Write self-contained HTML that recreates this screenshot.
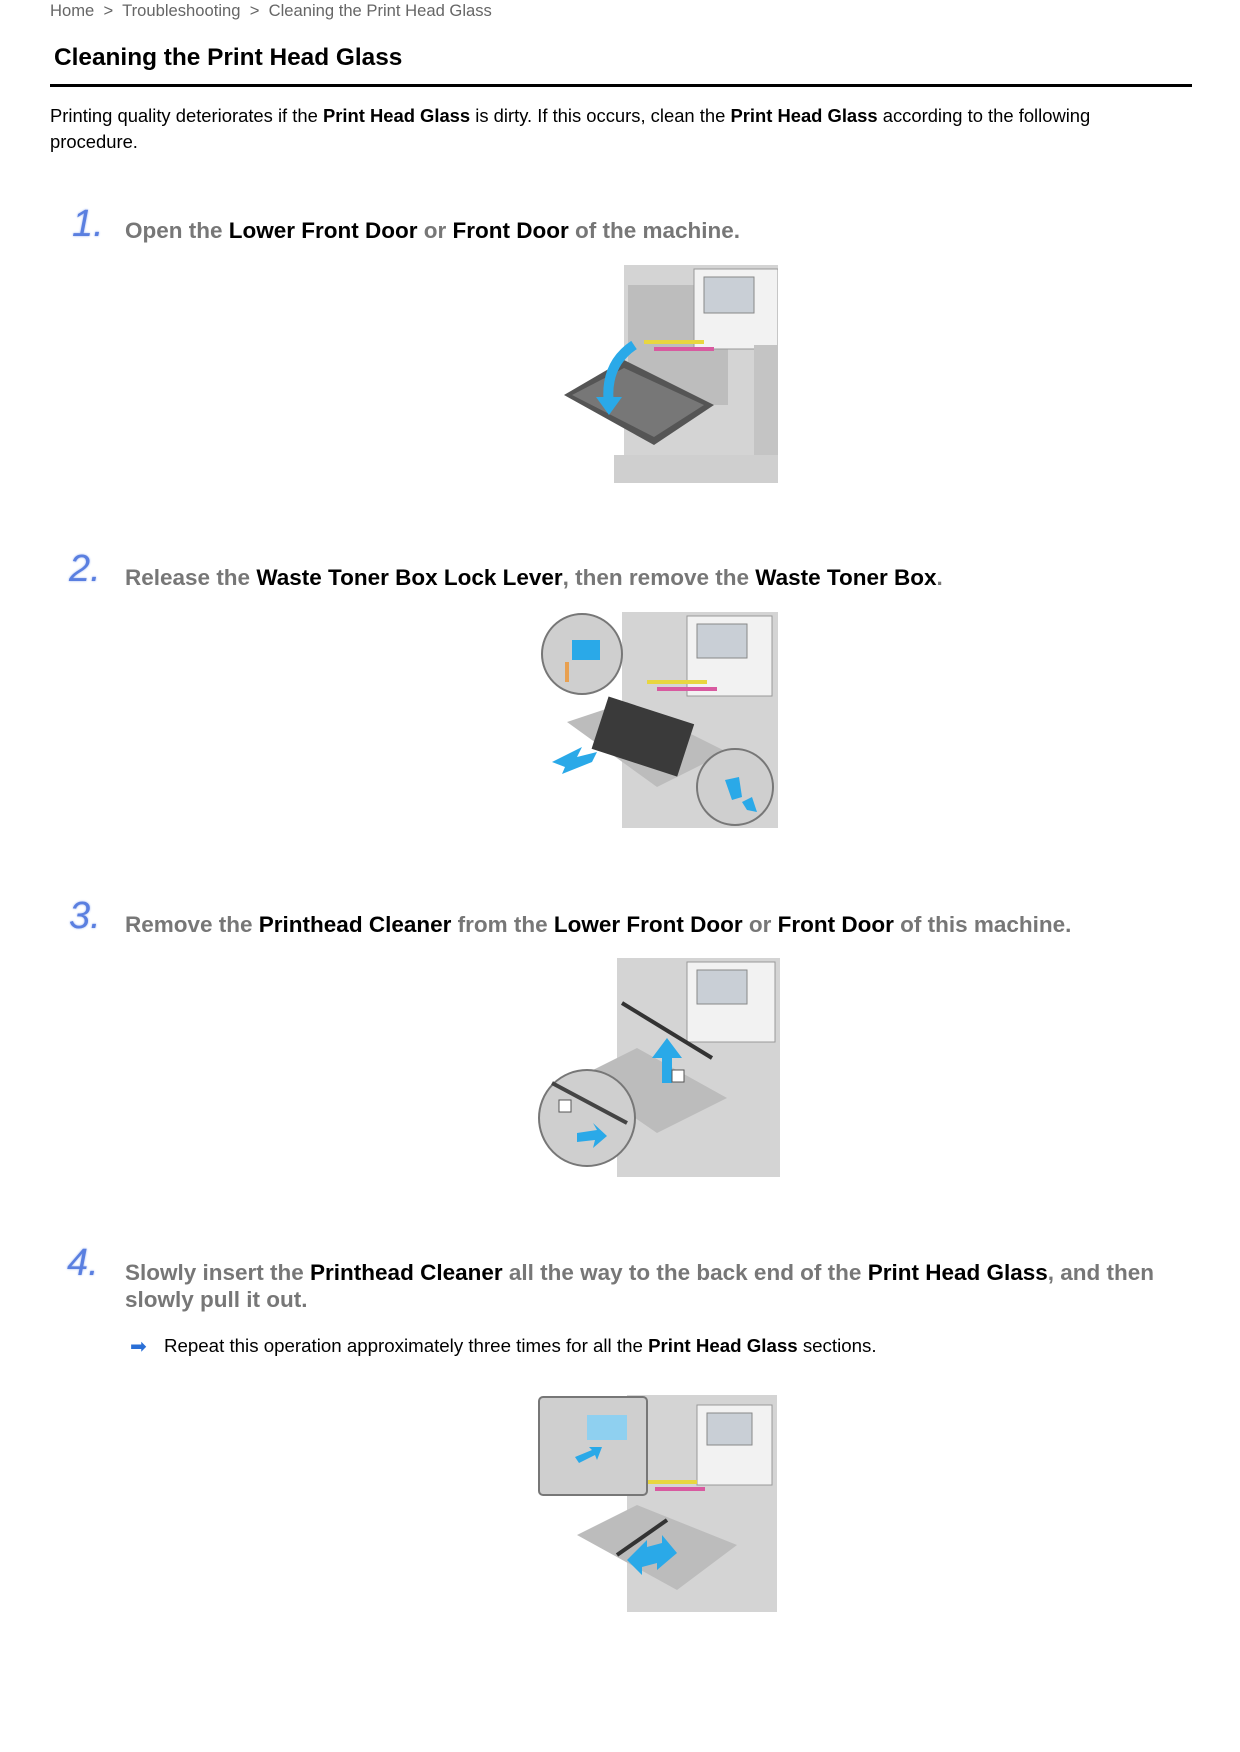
<!DOCTYPE html>
<html><head><meta charset="utf-8"><style>
body{margin:0;width:1240px;height:1752px;background:#fff;position:relative;font-family:"Liberation Sans",Arial,sans-serif;overflow:hidden}
.a{position:absolute;white-space:nowrap}
.bc{left:50px;top:1px;font-size:16.6px;color:#666}
.t{left:54px;top:44px;font-size:24.4px;font-weight:bold;color:#000}
.rule{position:absolute;left:50px;top:84px;width:1142px;height:3px;background:#000}
.p{left:50px;top:103px;font-size:18.4px;line-height:26px;color:#000;white-space:normal;width:1120px}
.n{font-size:38px;font-style:italic;color:#5a7fe0;font-weight:normal;text-shadow:0 0 2px #9bb3f0}
.h{font-size:22.5px;font-weight:bold;color:#777;line-height:27px}
.h b{color:#000}
svg{position:absolute}
</style></head><body>
<div class="a bc">Home &nbsp;&gt;&nbsp; Troubleshooting &nbsp;&gt;&nbsp; Cleaning the Print Head Glass</div>
<div class="a t">Cleaning the Print Head Glass</div>
<div class="rule"></div>
<div class="a p">Printing quality deteriorates if the <b>Print Head Glass</b> is dirty. If this occurs, clean the <b>Print Head Glass</b> according to the following procedure.</div>

<div class="a n" style="left:72px;top:203px">1.</div>
<div class="a h" style="left:125px;top:217px">Open the <b>Lower Front Door</b> or <b>Front Door</b> of the machine.</div>

<div class="a n" style="left:69px;top:548px">2.</div>
<div class="a h" style="left:125px;top:564px">Release the <b>Waste Toner Box Lock Lever</b>, then remove the <b>Waste Toner Box</b>.</div>

<div class="a n" style="left:69px;top:895px">3.</div>
<div class="a h" style="left:125px;top:911px">Remove the <b>Printhead Cleaner</b> from the <b>Lower Front Door</b> or <b>Front Door</b> of this machine.</div>

<div class="a n" style="left:67px;top:1242px">4.</div>
<div class="a h" style="left:125px;top:1259px">Slowly insert the <b>Printhead Cleaner</b> all the way to the back end of the <b>Print Head Glass</b>, and then<br>slowly pull it out.</div>
<div class="a" style="left:130px;top:1334px;font-size:20px;color:#2a6fd6">&#x27A1;</div>
<div class="a" style="left:164px;top:1335px;font-size:18.7px;color:#000">Repeat this operation approximately three times for all the <b>Print Head Glass</b> sections.</div>

<!-- image 1 -->
<svg style="left:564px;top:265px" width="214" height="218" viewBox="0 0 214 218">
<rect x="60" y="0" width="154" height="218" fill="#d4d4d4"/>
<rect x="64" y="20" width="100" height="120" fill="#bdbdbd"/>
<rect x="130" y="4" width="84" height="80" fill="#f2f2f2" stroke="#999"/>
<rect x="140" y="12" width="50" height="36" fill="#c9cfd6" stroke="#888"/>
<rect x="80" y="75" width="60" height="4" fill="#e8d640"/><rect x="90" y="82" width="60" height="4" fill="#d85aa0"/>
<rect x="190" y="80" width="24" height="138" fill="#c4c4c4"/>
<polygon points="0,130 60,95 150,140 90,180" fill="#555"/>
<polygon points="8,130 60,103 140,140 90,172" fill="#777"/>
<path d="M70,80 Q40,100 45,140" stroke="#2aa9e8" stroke-width="10" fill="none"/>
<polygon points="32,132 58,132 45,150" fill="#2aa9e8"/>
<rect x="50" y="190" width="164" height="28" fill="#cfcfcf"/>
</svg>

<!-- image 2 -->
<svg style="left:537px;top:612px" width="241" height="216" viewBox="0 0 241 216">
<rect x="85" y="0" width="156" height="216" fill="#d4d4d4"/>
<rect x="150" y="4" width="85" height="80" fill="#f2f2f2" stroke="#999"/>
<rect x="160" y="12" width="50" height="34" fill="#c9cfd6" stroke="#888"/>
<rect x="110" y="68" width="60" height="4" fill="#e8d640"/><rect x="120" y="75" width="60" height="4" fill="#d85aa0"/>
<polygon points="30,110 90,90 190,140 120,175" fill="#bcbcbc"/>
<rect x="62" y="95" width="90" height="55" fill="#3a3a3a" transform="rotate(18 100 120)"/>
<polygon points="15,150 45,135 40,145 60,140 55,150 25,162 28,155" fill="#2aa9e8"/>
<circle cx="45" cy="42" r="40" fill="#cfcfcf" stroke="#777" stroke-width="2"/>
<rect x="35" y="28" width="28" height="20" fill="#2aa9e8"/>
<rect x="28" y="50" width="4" height="20" fill="#e8a050"/>
<circle cx="198" cy="175" r="38" fill="#cfcfcf" stroke="#777" stroke-width="2"/>
<polygon points="188,168 202,165 205,185 195,188" fill="#2aa9e8"/>
<polygon points="205,190 215,185 220,200 210,198" fill="#2aa9e8"/>
</svg>

<!-- image 3 -->
<svg style="left:537px;top:958px" width="243" height="219" viewBox="0 0 243 219">
<rect x="80" y="0" width="163" height="219" fill="#d4d4d4"/>
<rect x="150" y="4" width="88" height="80" fill="#f2f2f2" stroke="#999"/>
<rect x="160" y="12" width="50" height="34" fill="#c9cfd6" stroke="#888"/>
<line x1="85" y1="45" x2="175" y2="100" stroke="#333" stroke-width="4"/>
<polygon points="40,120 100,90 190,140 120,175" fill="#bcbcbc"/>
<polygon points="115,100 130,80 145,100 135,100 135,125 125,125 125,100" fill="#2aa9e8"/>
<rect x="135" y="112" width="12" height="12" fill="#fff" stroke="#555"/>
<circle cx="50" cy="160" r="48" fill="#cfcfcf" stroke="#777" stroke-width="2"/>
<line x1="15" y1="125" x2="90" y2="165" stroke="#444" stroke-width="4"/>
<rect x="22" y="142" width="12" height="12" fill="#fff" stroke="#555"/>
<polygon points="40,175 60,172 56,165 70,178 56,190 58,182 40,184" fill="#2aa9e8"/>
</svg>

<!-- image 4 -->
<svg style="left:537px;top:1395px" width="240" height="217" viewBox="0 0 240 217">
<rect x="90" y="0" width="150" height="217" fill="#d4d4d4"/>
<rect x="160" y="10" width="75" height="80" fill="#f2f2f2" stroke="#999"/>
<rect x="170" y="18" width="45" height="32" fill="#c9cfd6" stroke="#888"/>
<rect x="110" y="85" width="50" height="4" fill="#e8d640"/><rect x="118" y="92" width="50" height="4" fill="#d85aa0"/>
<polygon points="40,140 100,110 200,150 140,195" fill="#bcbcbc"/>
<line x1="80" y1="160" x2="130" y2="125" stroke="#333" stroke-width="4"/>
<polygon points="90,165 110,145 110,152 125,148 125,140 140,158 120,175 120,168 105,172 105,180" fill="#2aa9e8"/>
<rect x="2" y="2" width="108" height="98" rx="4" fill="#cfcfcf" stroke="#777" stroke-width="2"/>
<rect x="50" y="20" width="40" height="25" fill="#8fd0f0"/>
<polygon points="38,62 55,55 52,52 65,52 60,65 58,60 42,68" fill="#2aa9e8"/>
</svg>
</body></html>
